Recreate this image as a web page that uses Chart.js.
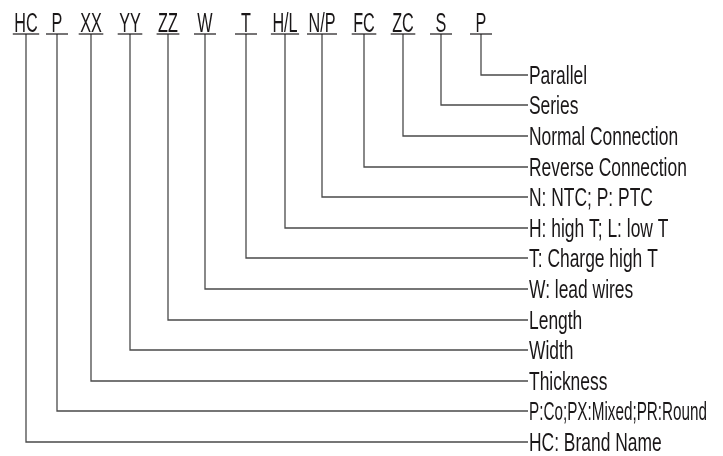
<html>
  <head>
    <style>
body {
  margin: 0;
  background: #fff;
}
    </style>
  </head>
  <body>
    <canvas id="chart" width="723" height="456"></canvas>
    <script src="https://cdn.jsdelivr.net/npm/chart.js"></script>
    <script>

// part number fields, left to right, and where each one sits along x
const codes = ['HC', 'P', 'XX', 'YY', 'ZZ', 'W', 'T', 'H/L', 'N/P', 'FC', 'ZC', 'S', 'P']
const codeX = [26, 57, 91, 130, 168, 205, 246, 285, 322, 364, 403, 441, 481]
// what each field means, same order as codes
const meanings = [
  'HC: Brand Name',
  'P:Co;PX:Mixed;PR:Round',
  'Thickness',
  'Width',
  'Length',
  'W: lead wires',
  'T: Charge high T',
  'H: high T; L: low T',
  'N: NTC; P: PTC',
  'Reverse Connection',
  'Normal Connection',
  'Series',
  'Parallel'
]
// height of each meaning row
const rowY = [442, 411, 381, 350, 320, 289, 258, 228, 197, 167, 136, 105, 75]

const underlineY = 34
const labelX = 528
// no condensed face installed, so squeeze a regular one
const font = '"Liberation Sans", Arial, sans-serif'
const textColor = '#1a1718'
const lineColor = '#4a4a4a'

const datasets = codes.map((c, i) => ({
  data: [
    {x: codeX[i], y: underlineY},
    {x: codeX[i], y: rowY[i]},
    {x: labelX, y: rowY[i]}
  ],
  showLine: true,
  borderColor: lineColor,
  borderWidth: 1.3,
  pointRadius: 0,
  fill: false
}))

function squeezedText(ctx, text, x, y, sx, maxW) {
  const w = ctx.measureText(text).width
  if (maxW && w * sx > maxW) {
    sx = maxW / w
  }
  ctx.save()
  ctx.translate(x, y)
  ctx.scale(sx, 1)
  ctx.fillText(text, 0, 0)
  ctx.restore()
  return w * sx
}

const textPlugin = {
  id: 'codeText',
  afterDatasetsDraw(chart) {
    const ctx = chart.ctx
    const xs = chart.scales.x
    const ys = chart.scales.y
    ctx.save()
    ctx.fillStyle = textColor
    ctx.strokeStyle = textColor
    ctx.lineWidth = 1.2
    ctx.textBaseline = 'alphabetic'
    ctx.textAlign = 'left'

    // codes along the top, each one underlined
    ctx.font = '27px ' + font
    const uy = ys.getPixelForValue(underlineY)
    codes.forEach((c, i) => {
      const cx = xs.getPixelForValue(codeX[i])
      const sx = 0.6
      const w = ctx.measureText(c).width * sx
      squeezedText(ctx, c, cx - w / 2, uy - 2, sx)
      const uw = Math.max(w + 3, 22)
      ctx.beginPath()
      ctx.moveTo(cx - uw / 2, uy)
      ctx.lineTo(cx + uw / 2, uy)
      ctx.stroke()
    })

    // meanings down the right
    ctx.font = '26px ' + font
    meanings.forEach((m, i) => {
      const x = xs.getPixelForValue(labelX) + 1
      const y = ys.getPixelForValue(rowY[i]) + 9
      squeezedText(ctx, m, x, y, 0.67, 178)
    })
    ctx.restore()
  }
}

new Chart(document.getElementById('chart'), {
  type: 'scatter',
  data: {datasets},
  options: {
    responsive: false,
    animation: false,
    layout: {padding: 0},
    plugins: {
      legend: {display: false},
      tooltip: {enabled: false}
    },
    scales: {
      x: {type: 'linear', min: 0, max: 723, display: false},
      y: {type: 'linear', min: 0, max: 456, reverse: true, display: false}
    }
  },
  plugins: [textPlugin]
})
    </script>
  </body>
</html>
